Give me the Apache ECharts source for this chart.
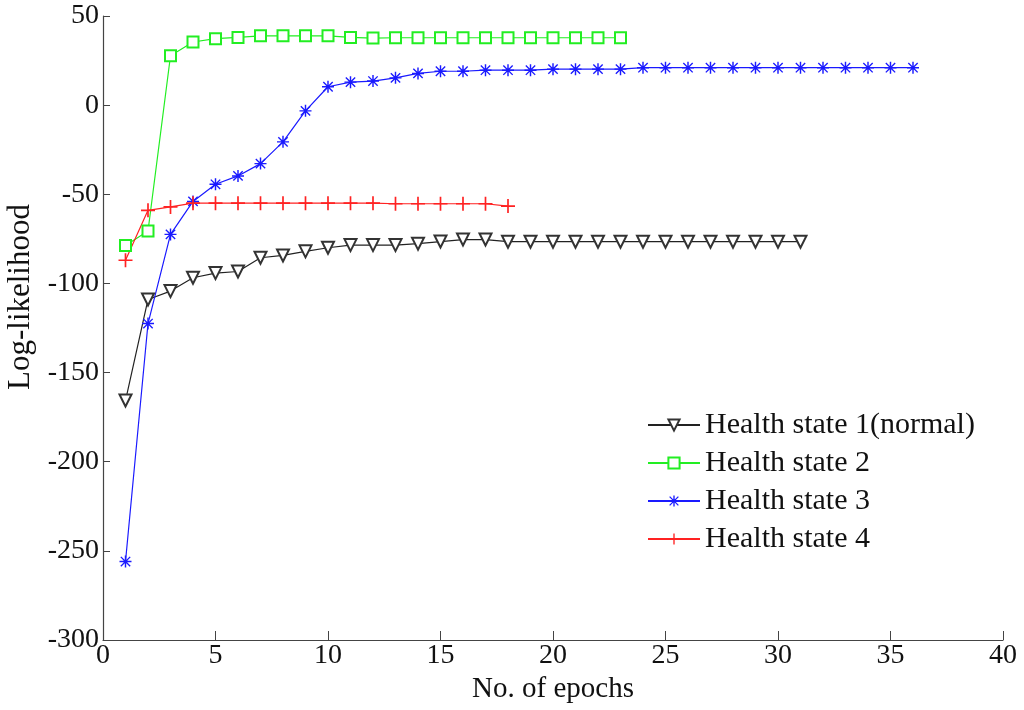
<!DOCTYPE html>
<html>
<head>
<meta charset="utf-8">
<script src="https://cdn.jsdelivr.net/npm/echarts@6/dist/echarts.min.js"></script>
<style>
  html, body { margin: 0; padding: 0; background: #fff; }
  #main { width: 1024px; height: 710px; }
</style>
</head>
<body>
<div id="main"></div>
<script>
// log-likelihood per epoch, epochs start at 1
var state1 = [-165.7, -109, -104.3, -96.8, -94.2, -93.3, -85.6, -84.3, -82, -80,
  -78.5, -78.5, -78.5, -77.7, -76.5, -75.4, -75.4, -76.6, -76.6, -76.6,
  -76.6, -76.6, -76.6, -76.6, -76.6, -76.6, -76.6, -76.6, -76.6, -76.6, -76.6];
var state2 = [-78.7, -70.6, 27.7, 35.4, 37.3, 38, 38.9, 38.9, 38.9, 38.9,
  38, 37.6, 37.8, 37.8, 37.8, 37.8, 37.8, 37.8, 37.8, 37.8, 37.8, 37.8, 37.8];
var state3 = [-256, -122.5, -72.5, -54, -44.4, -39.7, -32.8, -20.6, -3.2, 10.3,
  12.9, 13.5, 15.3, 17.8, 19, 19, 19.6, 19.6, 19.6, 20.2, 20.2, 20.2, 20.2,
  21, 21, 21, 21, 21, 21, 21, 21, 21, 21, 21, 21, 21];
var state4 = [-87, -59, -57.1, -55, -55, -55, -55, -55, -55, -55, -55, -55,
  -55.3, -55.3, -55.3, -55.3, -55.3, -56.6];
var names = ['Health state 1(normal)', 'Health state 2', 'Health state 3', 'Health state 4'];
var xTicks = { min: 0, max: 40, interval: 5 };
var yTicks = { min: -300, max: 50, interval: 50 };

function pts(arr) {
  return arr.map(function (v, i) { return [i + 1, v]; });
}

var plusPath = 'path://M4.4,0 H5.6 V4.4 H10 V5.6 H5.6 V10 H4.4 V5.6 H0 V4.4 H4.4 Z';
var starPath = 'path://M4.4,0 H5.6 V10 H4.4 Z M0,4.4 H10 V5.6 H0 Z ' +
  'M0.7,1.5 L1.5,0.7 L9.3,8.5 L8.5,9.3 Z M8.5,0.7 L9.3,1.5 L1.5,9.3 L0.7,8.5 Z';

var font = 'Liberation Serif';
var chart = echarts.init(document.getElementById('main'));

var option = {
  animation: false,
  backgroundColor: '#fff',
  textStyle: { fontFamily: font },
  grid: { left: 103, right: 21, top: 16, bottom: 70, outerBoundsMode: 'none' },
  legend: {
    orient: 'vertical',
    left: 642,
    top: 405,
    itemWidth: 52,
    itemHeight: 14,
    itemGap: 8,
    textStyle: { fontFamily: font, fontSize: 30, color: '#111', lineHeight: 30 },
    data: names
  },
  xAxis: {
    type: 'value',
    min: xTicks.min, max: xTicks.max, interval: xTicks.interval,
    name: 'No. of epochs',
    nameLocation: 'middle',
    nameGap: 33,
    nameTextStyle: { fontFamily: font, fontSize: 29, color: '#111' },
    axisLine: { onZero: false, lineStyle: { color: '#444', width: 1.2 } },
    axisTick: { inside: true, length: 9, lineStyle: { color: '#444' } },
    axisLabel: { fontFamily: font, fontSize: 28, color: '#111', margin: 2 },
    splitLine: { show: false }
  },
  yAxis: {
    type: 'value',
    min: yTicks.min, max: yTicks.max, interval: yTicks.interval,
    name: 'Log-likelihood',
    nameLocation: 'middle',
    nameGap: 66,
    nameTextStyle: { fontFamily: font, fontSize: 31, color: '#111', padding: [0, 0, 0, 62] },
    axisLine: { show: true, lineStyle: { color: '#444', width: 1.2 } },
    axisTick: { show: true, inside: true, length: 7, lineStyle: { color: '#444' } },
    axisLabel: { fontFamily: font, fontSize: 28, color: '#111', margin: 4 },
    splitLine: { show: false }
  },
  series: [
    {
      name: names[0], type: 'line', data: pts(state1),
      symbol: 'emptyTriangle', symbolRotate: 180, symbolSize: 12,
      lineStyle: { color: '#222', width: 1.2 },
      itemStyle: { color: '#333', borderWidth: 1.3 }
    },
    {
      name: names[1], type: 'line', data: pts(state2),
      symbol: 'emptyRect', symbolSize: 11,
      lineStyle: { color: '#22ee22', width: 1.2 },
      itemStyle: { color: '#22ee22', borderWidth: 1.3 }
    },
    {
      name: names[2], type: 'line', data: pts(state3),
      symbol: starPath, symbolSize: 12,
      lineStyle: { color: '#1a1aff', width: 1.2 },
      itemStyle: { color: '#1a1aff' }
    },
    {
      name: names[3], type: 'line', data: pts(state4),
      symbol: plusPath, symbolSize: 14,
      lineStyle: { color: '#ff2222', width: 1.2 },
      itemStyle: { color: '#ff2222' }
    }
  ]
};

chart.setOption(option);
</script>
</body>
</html>
